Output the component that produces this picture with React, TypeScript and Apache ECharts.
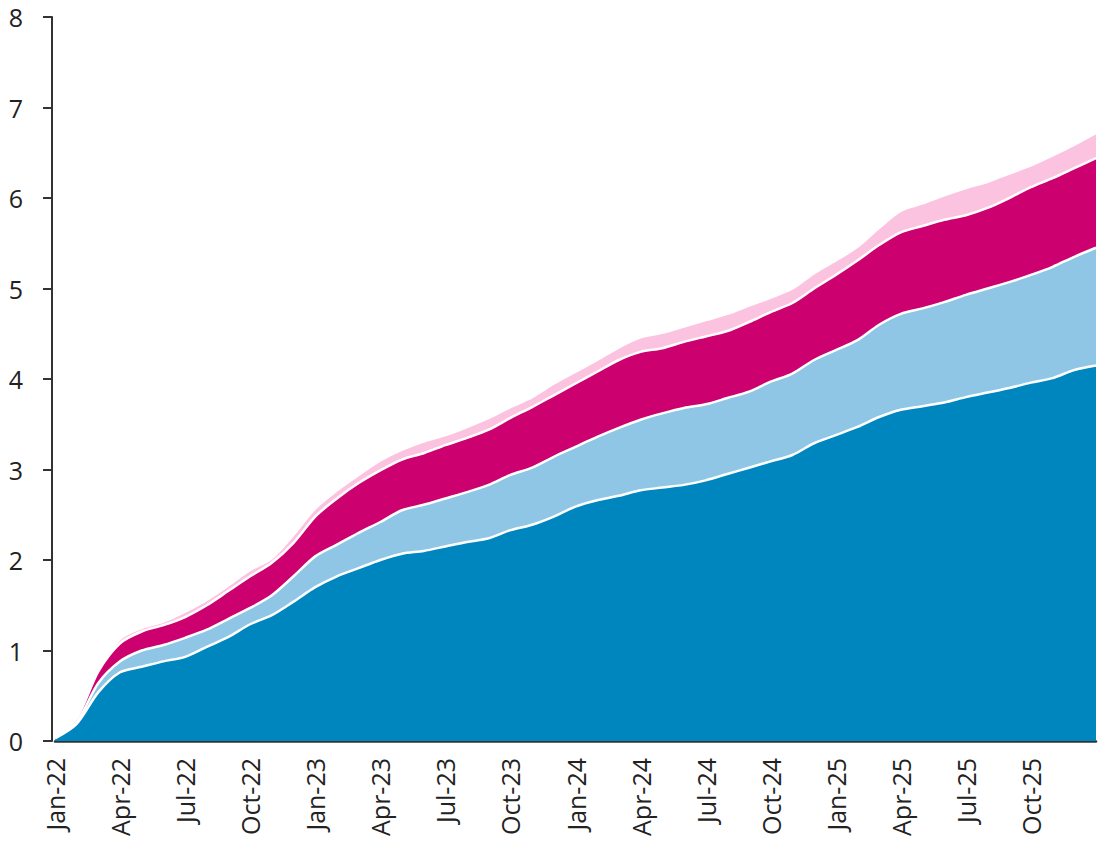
import React, { useEffect, useRef } from "react";
import * as echarts from "echarts";

const categories = [
  "Jan-22", "Feb-22", "Mar-22", "Apr-22", "May-22", "Jun-22", "Jul-22", "Aug-22", "Sep-22", "Oct-22", "Nov-22", "Dec-22",
  "Jan-23", "Feb-23", "Mar-23", "Apr-23", "May-23", "Jun-23", "Jul-23", "Aug-23", "Sep-23", "Oct-23", "Nov-23", "Dec-23",
  "Jan-24", "Feb-24", "Mar-24", "Apr-24", "May-24", "Jun-24", "Jul-24", "Aug-24", "Sep-24", "Oct-24", "Nov-24", "Dec-24",
  "Jan-25", "Feb-25", "Mar-25", "Apr-25", "May-25", "Jun-25", "Jul-25", "Aug-25", "Sep-25", "Oct-25", "Nov-25", "Dec-25",
  "Jan-26",
];

const darkBlue = [
  0.03, 0.19, 0.54, 0.76, 0.82, 0.88, 0.93, 1.04, 1.15, 1.29, 1.39, 1.54,
  1.70, 1.82, 1.91, 2.00, 2.07, 2.10, 2.15, 2.20, 2.24, 2.33, 2.39, 2.48,
  2.59, 2.66, 2.71, 2.77, 2.80, 2.83, 2.88, 2.95, 3.02, 3.09, 3.16, 3.29,
  3.38, 3.47, 3.58, 3.66, 3.70, 3.74, 3.80, 3.85, 3.90, 3.96, 4.01, 4.10,
  4.15,
];
const lightBlue = [
  0, 0.02, 0.10, 0.12, 0.18, 0.18, 0.21, 0.19, 0.20, 0.18, 0.22, 0.28,
  0.34, 0.35, 0.39, 0.42, 0.48, 0.51, 0.53, 0.55, 0.59, 0.61, 0.63, 0.66,
  0.66, 0.70, 0.75, 0.78, 0.82, 0.85, 0.84, 0.84, 0.84, 0.88, 0.90, 0.92,
  0.94, 0.96, 1.02, 1.06, 1.08, 1.11, 1.13, 1.15, 1.17, 1.19, 1.23, 1.25,
  1.30,
];
const magenta = [
  0, 0.04, 0.13, 0.20, 0.21, 0.22, 0.23, 0.27, 0.31, 0.35, 0.36, 0.37,
  0.44, 0.51, 0.55, 0.57, 0.56, 0.57, 0.59, 0.60, 0.61, 0.63, 0.67, 0.68,
  0.70, 0.72, 0.75, 0.75, 0.72, 0.73, 0.75, 0.74, 0.77, 0.77, 0.78, 0.79,
  0.83, 0.88, 0.88, 0.90, 0.91, 0.91, 0.88, 0.89, 0.93, 0.97, 0.98, 0.98,
  0.99,
];
const pink = [
  0, 0.02, 0.02, 0.05, 0.04, 0.04, 0.06, 0.06, 0.06, 0.07, 0.05, 0.09,
  0.09, 0.09, 0.09, 0.11, 0.11, 0.13, 0.11, 0.12, 0.13, 0.12, 0.11, 0.13,
  0.13, 0.13, 0.14, 0.16, 0.17, 0.17, 0.18, 0.19, 0.18, 0.16, 0.16, 0.17,
  0.16, 0.15, 0.19, 0.24, 0.25, 0.27, 0.30, 0.29, 0.27, 0.24, 0.25, 0.26,
  0.28,
];

const seriesDefs = [
  { name: "Series 1", data: darkBlue, color: "#0086bf", z: 5 },
  { name: "Series 2", data: lightBlue, color: "#8fc6e5", z: 4 },
  { name: "Series 3", data: magenta, color: "#cd006f", z: 3 },
  { name: "Series 4", data: pink, color: "#fcc3e0", z: 2 },
];

const FONT = "'Open Sans', sans-serif";

export default function App() {
  const ref = useRef<HTMLDivElement>(null);
  useEffect(() => {
    if (!ref.current) return;
    const chart = echarts.init(ref.current, null, { renderer: "svg" });
    chart.setOption({
      animation: false,
      backgroundColor: "#ffffff",
      grid: { left: 55, right: 6, top: 17, bottom: 102, containLabel: false },
      xAxis: {
        type: "category",
        data: categories,
        boundaryGap: false,
        axisLine: { show: true, lineStyle: { color: "#333333", width: 2.5 } },
        axisTick: { show: false },
        splitLine: { show: false },
        axisLabel: {
          interval: (index: number) => index % 3 === 0 && index < 48,
          rotate: 90,
          margin: 17,
          color: "#222222",
          fontFamily: FONT,
          fontSize: 25,
        },
      },
      yAxis: {
        type: "value",
        min: 0,
        max: 8,
        interval: 1,
        offset: 3,
        axisLine: { show: true, lineStyle: { color: "#333333", width: 2 } },
        axisTick: { show: true, inside: false, length: 9, lineStyle: { color: "#333333", width: 2 } },
        splitLine: { show: false },
        axisLabel: {
          margin: 29,
          color: "#222222",
          fontFamily: FONT,
          fontSize: 25,
        },
      },
      series: seriesDefs.map((s) => ({
        name: s.name,
        type: "line",
        stack: "total",
        data: s.data,
        z: s.z,
        smooth: 0.3,
        symbol: "none",
        showSymbol: false,
        lineStyle: { color: "#ffffff", width: 2.5 },
        itemStyle: { color: s.color },
        areaStyle: { color: s.color, opacity: 1 },
        emphasis: { disabled: true },
      })),
    });
    return () => chart.dispose();
  }, []);
  return (
    <div
      ref={ref}
      style={{ position: "fixed", left: 0, top: 0, width: 1102, height: 843 }}
    />
  );
}
